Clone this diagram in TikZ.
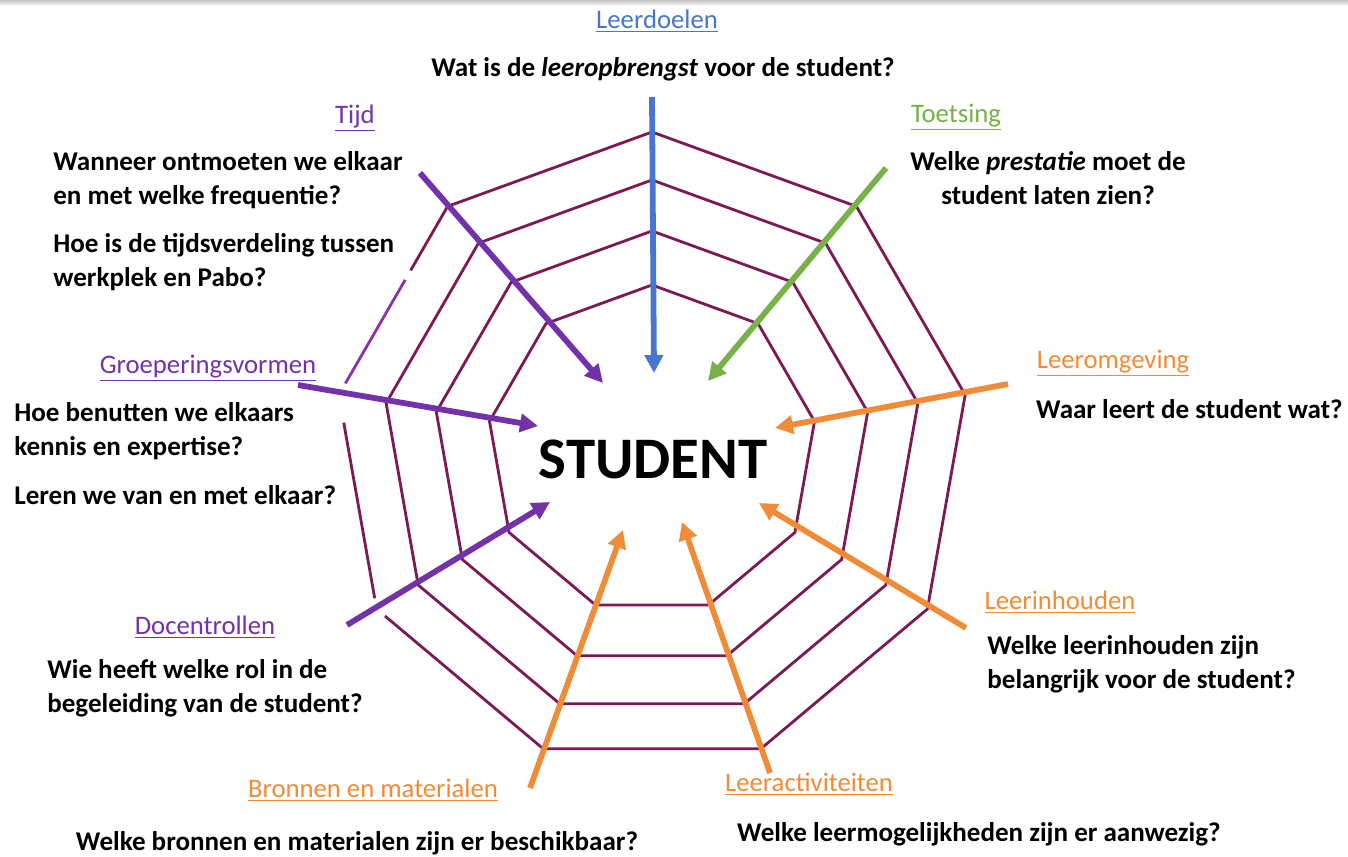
\documentclass[tikz,border=0pt]{standalone}
\usepackage{fontspec}
\setmainfont{Carlito}
\usetikzlibrary{arrows.meta,calc}

\definecolor{webrood}{RGB}{125,25,85}
\definecolor{webpaars}{RGB}{140,50,170}
\definecolor{blauw}{RGB}{70,118,205}
\definecolor{groen}{RGB}{118,178,72}
\definecolor{oranje}{RGB}{240,140,55}
\definecolor{paars}{RGB}{115,50,170}

\tikzset{
	web/.style={draw=webrood, line width=1.6pt},
	pijl/.style={line width=3.3pt, -{Triangle[length=0.36cm,width=0.36cm]}},
	kop/.style={font=\fontsize{15.2}{19.3}\selectfont, inner sep=0pt},
	vraag/.style={font=\fontsize{15.4}{19.3}\selectfont\bfseries, inner sep=0pt, align=left},
}

\begin{document}
\begin{tikzpicture}[x=0.02cm,y=-0.02cm]
	\useasboundingbox (0,0) rectangle (1348,857);
	\shade[top color=gray!45, bottom color=white] (0,0) rectangle (1348,6);

	% Web
	\begin{scope}[shift={(652,450)}]
		\foreach \r in {165,219,270} {
			\draw[web] (270:\r) \foreach \a in {310,350,...,590} {-- (\a:\r)} -- cycle;
		}
		\foreach \a/\n in {270/o1,310/o2,350/o3,30/o4,70/o5,110/o6,150/o7,190/o8,230/o9}
			\coordinate (\n) at (\a:318);
		\draw[web] ($(o7)!0.05!(o6)$) -- (o6) -- (o5) -- (o4) -- (o3) -- (o2) -- (o1) -- (o9) -- ($(o9)!0.34!(o8)$);
		\draw[web, draw=webpaars] ($(o9)!0.39!(o8)$) -- ($(o9)!0.94!(o8)$);
		\draw[web] ($(o8)!0.13!(o7)$) -- ($(o8)!0.95!(o7)$);
	\end{scope}

	% Centre
	\node[font=\fontsize{33.5}{36}\selectfont\bfseries, inner sep=0pt] (student) at (653,459) {STUDENT};

	% Arrows
	\coordinate (doelen-s) at (652,97);   \coordinate (doelen-e) at (654,373);
	\coordinate (toets-s) at (886,168);   \coordinate (toets-e) at (708,381);
	\coordinate (omg-s) at (1008,384);    \coordinate (omg-e) at (775,428);
	\coordinate (inh-s) at (966,628);     \coordinate (inh-e) at (759,503);
	\coordinate (act-s) at (770,773);     \coordinate (act-e) at (682,522);
	\coordinate (bron-s) at (530,788);    \coordinate (bron-e) at (623,530);
	\coordinate (doc-s) at (347,625);     \coordinate (doc-e) at (550,502);
	\coordinate (groep-s) at (298,385);   \coordinate (groep-e) at (538,426);
	\coordinate (tijd-s) at (420,173);    \coordinate (tijd-e) at (603,383);

	\draw[pijl, blauw] (doelen-s) -- (doelen-e);
	\draw[pijl, groen] (toets-s) -- (toets-e);
	\draw[pijl, oranje] (omg-s) -- (omg-e);
	\draw[pijl, oranje] (inh-s) -- (inh-e);
	\draw[pijl, oranje] (act-s) -- (act-e);
	\draw[pijl, oranje] (bron-s) -- (bron-e);
	\draw[pijl, paars] (doc-s) -- (doc-e);
	\draw[pijl, paars] (groep-s) -- (groep-e);
	\draw[pijl, paars] (tijd-s) -- (tijd-e);

	% Leerdoelen
	\node[kop, text=blauw] (leerdoelen) at (657,21) {\underline{Leerdoelen}};
	\node[vraag] (vr-doelen) at (663,69) {Wat is de \textit{leeropbrengst} voor de student?};

	% Tijd
	\node[kop, text=paars] (tijd) at (355,118) {\underline{Tijd}};
	\node[vraag, anchor=west] (vr-tijd1) at (53,180) {Wanneer ontmoeten we elkaar\\en met welke frequentie?};
	\node[vraag, anchor=west] (vr-tijd2) at (53,262) {Hoe is de tijdsverdeling tussen\\werkplek en Pabo?};

	% Toetsing
	\node[kop, text=groen] (toetsing) at (956,117) {\underline{Toetsing}};
	\node[vraag, align=center] (vr-toets) at (1048,178) {Welke \textit{prestatie} moet de\\student laten zien?};

	% Leeromgeving
	\node[kop, text=oranje] (omgeving) at (1113,363) {\underline{Leeromgeving}};
	\node[vraag, anchor=east] (vr-omg) at (1343,409) {Waar leert de student wat?};

	% Groeperingsvormen
	\node[kop, text=paars] (groep) at (208,368) {\underline{Groeperingsvormen}};
	\node[vraag, anchor=west] (vr-groep1) at (14,431) {Hoe benutten we elkaars\\kennis en expertise?};
	\node[vraag, anchor=west] (vr-groep2) at (14,495) {Leren we van en met elkaar?};

	% Docentrollen
	\node[kop, text=paars] (docent) at (205,627) {\underline{Docentrollen}};
	\node[vraag, anchor=west] (vr-doc) at (47,688) {Wie heeft welke rol in de\\begeleiding van de student?};

	% Leerinhouden
	\node[kop, text=oranje] (inhoud) at (1060,602) {\underline{Leerinhouden}};
	\node[vraag, anchor=west] (vr-inh) at (987,664) {Welke leerinhouden zijn\\belangrijk voor de student?};

	% Bronnen en materialen
	\node[kop, text=oranje] (bronnen) at (373,790) {\underline{Bronnen en materialen}};
	\node[vraag] (vr-bron) at (357,843) {Welke bronnen en materialen zijn er beschikbaar?};

	% Leeractiviteiten
	\node[kop, text=oranje] (activiteit) at (809,784) {\underline{Leeractiviteiten}};
	\node[vraag] (vr-act) at (979,834) {Welke leermogelijkheden zijn er aanwezig?};
\end{tikzpicture}
\end{document}
